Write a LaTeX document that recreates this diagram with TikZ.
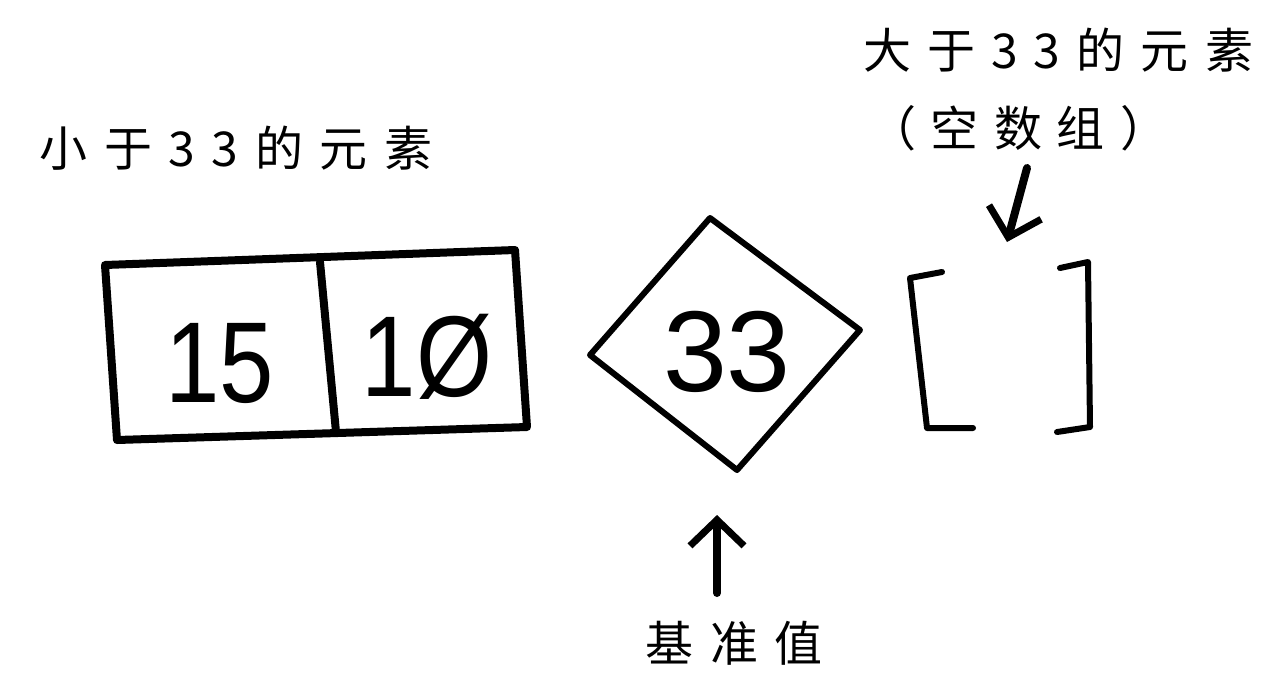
\documentclass[tikz,border=0pt]{standalone}
\usepackage{fontspec}
\newfontfamily\cjk{Noto Sans CJK SC}
\newfontfamily\digitfont{Liberation Sans}
\usetikzlibrary{arrows.meta}
\tikzset{
  ink/.style={line width=8pt, line cap=round, line join=round},
  thin ink/.style={line width=6pt, line cap=round, line join=round},
  lbl/.style={inner sep=0pt, font=\cjk\fontsize{48}{52}\selectfont},
  num/.style={inner sep=0pt, font=\digitfont\fontsize{115}{120}\selectfont},
  handarrow/.style={line width=8pt, line cap=round, -{Straight Barb[length=26pt,width=54pt,line width=7pt]}}
}
\begin{document}
\begin{tikzpicture}[x=1pt,y=-1pt]
\useasboundingbox (0,0) rectangle (1276,681);
% array box
\coordinate (tl) at (105,265);
\coordinate (tr) at (515,250);
\coordinate (br) at (527,427);
\coordinate (bl) at (117,440);
\coordinate (dt) at (320,262);
\coordinate (db) at (336,432);
\draw[ink] (tl) -- (tr) -- (br) -- (bl) -- cycle;
\draw[ink] (dt) -- (db);
\node[num] (n15) at (220,363) {\scalebox{0.85}[1]{15}};
\node[num] (n10) at (427,357) {\scalebox{0.85}[1]{1Ø}};
% pivot diamond
\coordinate (dl) at (590,355);
\coordinate (dtop) at (710,218);
\coordinate (dr) at (860,330);
\coordinate (dbot) at (737,470);
\draw[thin ink] (dl) -- (dtop) -- (dr) -- (dbot) -- cycle;
\node[num] (n33) at (727,352) {33};
% empty brackets
\draw[thin ink] (942,272) -- (910,278) -- (927,428) -- (973,428);
\draw[thin ink] (1060,268) -- (1088,262) -- (1090,427) -- (1057,432);
% labels
\node[lbl] (less) at (236,148) {\makebox[393pt]{小\hfill 于\hfill 3\hfill 3\hfill 的\hfill 元\hfill 素}};
\node[lbl] (greater) at (1058,50) {\makebox[390pt]{大\hfill 于\hfill 3\hfill 3\hfill 的\hfill 元\hfill 素}};
\node[lbl] (emptylbl) at (1018,128) {\makebox[300pt]{（\hfill 空\hfill 数\hfill 组\hfill ）}};
\node[lbl] (pivotlbl) at (734,643) {\makebox[178pt]{基\hfill 准\hfill 值}};
% arrows
\coordinate (a1s) at (1027,168);
\coordinate (a1e) at (1007,242);
\draw[handarrow] (a1s) -- (a1e);
\coordinate (a2s) at (717,593);
\coordinate (a2e) at (717,515);
\draw[handarrow] (a2s) -- (a2e);
\end{tikzpicture}
\end{document}
